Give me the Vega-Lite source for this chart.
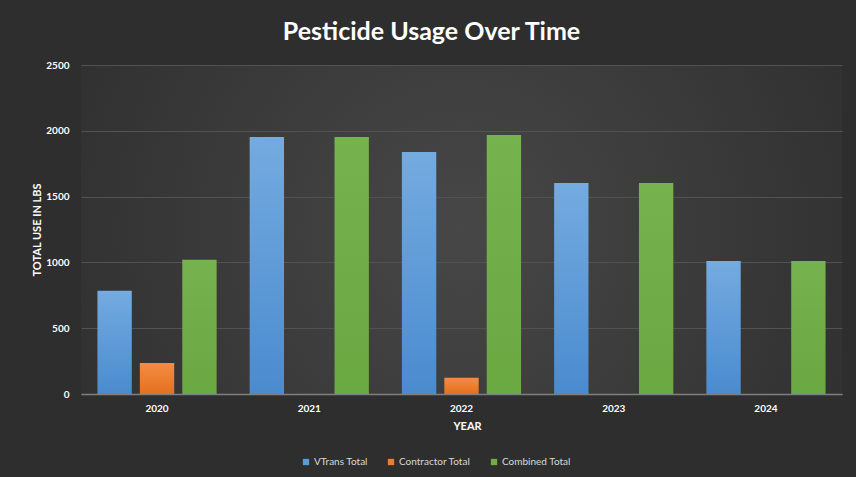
{
  "$schema": "https://vega.github.io/schema/vega-lite/v6.json",
  "width": 761,
  "height": 329,
  "autosize": {"type": "none"},
  "padding": {"left": 81, "top": 65, "right": 14, "bottom": 83},
  "background": "#2e2e2e",
  "config": {
    "font": "Lato",
    "view": {
      "stroke": null,
      "fill": {
        "gradient": "radial",
        "x1": 0.5, "y1": 0.5, "r1": 0,
        "x2": 0.5, "y2": 0.5, "r2": 0.62,
        "stops": [
          {"offset": 0, "color": "#474747"},
          {"offset": 1, "color": "#2e2e2e"}
        ]
      }
    }
  },
  "title": {
    "text": "Pesticide Usage Over Time",
    "font": "Lato",
    "fontSize": 25,
    "fontWeight": "bold",
    "color": "#ffffff",
    "dx": -30,
    "offset": -5,
    "baseline": "alphabetic"
  },
  "data": {
    "values": [
      {"year": "2020", "series": "VTrans Total", "lbs": 785},
      {"year": "2020", "series": "Contractor Total", "lbs": 236},
      {"year": "2020", "series": "Combined Total", "lbs": 1020},
      {"year": "2021", "series": "VTrans Total", "lbs": 1953},
      {"year": "2021", "series": "Contractor Total", "lbs": 0},
      {"year": "2021", "series": "Combined Total", "lbs": 1953},
      {"year": "2022", "series": "VTrans Total", "lbs": 1838},
      {"year": "2022", "series": "Contractor Total", "lbs": 123},
      {"year": "2022", "series": "Combined Total", "lbs": 1968},
      {"year": "2023", "series": "VTrans Total", "lbs": 1603},
      {"year": "2023", "series": "Contractor Total", "lbs": 0},
      {"year": "2023", "series": "Combined Total", "lbs": 1603},
      {"year": "2024", "series": "VTrans Total", "lbs": 1011},
      {"year": "2024", "series": "Contractor Total", "lbs": 0},
      {"year": "2024", "series": "Combined Total", "lbs": 1011}
    ]
  },
  "mark": {"type": "bar"},
  "encoding": {
    "x": {
      "field": "year",
      "type": "nominal",
      "scale": {"paddingInner": 0.217, "paddingOuter": 0.108},
      "axis": {
        "title": "YEAR",
        "labelAngle": 0,
        "labelFont": "Lato",
        "labelFontSize": 10,
        "labelFontWeight": "bold",
        "labelColor": "#ffffff",
        "labelPadding": 9,
        "ticks": false,
        "domainColor": "#7f7f7f",
        "domainWidth": 1.5,
        "titleFont": "Lato",
        "titleFontSize": 11,
        "titleFontWeight": "bold",
        "titleColor": "#ffffff",
        "titlePadding": 7,
        "titleX": 386
      }
    },
    "xOffset": {
      "field": "series",
      "type": "nominal",
      "sort": ["VTrans Total", "Contractor Total", "Combined Total"],
      "scale": {"paddingInner": 0.19}
    },
    "y": {
      "field": "lbs",
      "type": "quantitative",
      "scale": {"domain": [0, 2500]},
      "axis": {
        "title": "TOTAL USE IN LBS",
        "values": [0, 500, 1000, 1500, 2000, 2500],
        "format": "d",
        "labelFont": "Lato",
        "labelFontSize": 10,
        "labelFontWeight": "bold",
        "labelColor": "#ffffff",
        "labelPadding": 12,
        "ticks": false,
        "domain": false,
        "gridColor": "#525252",
        "gridWidth": 1,
        "titleFont": "Lato",
        "titleFontSize": 11,
        "titleFontWeight": "bold",
        "titleColor": "#ffffff",
        "titlePadding": 3
      }
    },
    "color": {
      "field": "series",
      "type": "nominal",
      "scale": {
        "domain": ["VTrans Total", "Contractor Total", "Combined Total"],
        "range": ["#5b9bd5", "#ed7d31", "#70ad47"]
      },
      "legend": {
        "title": null,
        "orient": "none",
        "direction": "horizontal",
        "legendX": 220,
        "legendY": 392,
        "symbolType": "square",
        "symbolSize": 40,
        "symbolStrokeWidth": 0,
        "labelFont": "Lato",
        "labelFontSize": 10,
        "labelColor": "#d9d9d9",
        "labelOffset": 3,
        "columnPadding": 18
      },
      "condition": [
        {
          "test": "datum.series === 'VTrans Total'",
          "value": {
            "gradient": "linear", "x1": 0, "y1": 0, "x2": 0, "y2": 1,
            "stops": [{"offset": 0, "color": "#74abe0"}, {"offset": 1, "color": "#4a8bcf"}]
          }
        },
        {
          "test": "datum.series === 'Contractor Total'",
          "value": {
            "gradient": "linear", "x1": 0, "y1": 0, "x2": 0, "y2": 1,
            "stops": [{"offset": 0, "color": "#f58c42"}, {"offset": 1, "color": "#e4701f"}]
          }
        },
        {
          "test": "datum.series === 'Combined Total'",
          "value": {
            "gradient": "linear", "x1": 0, "y1": 0, "x2": 0, "y2": 1,
            "stops": [{"offset": 0, "color": "#76b24d"}, {"offset": 1, "color": "#6aa842"}]
          }
        }
      ]
    }
  }
}
